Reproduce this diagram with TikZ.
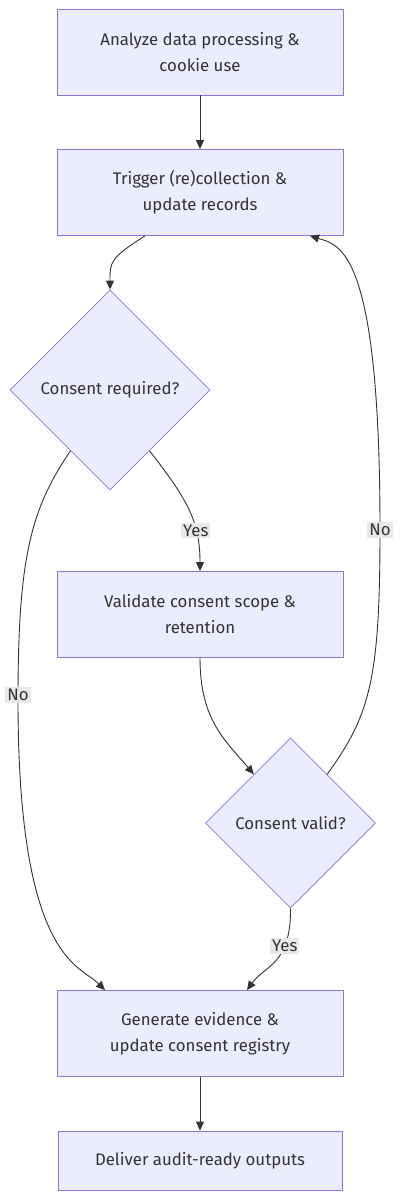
\documentclass[tikz,border=0pt]{standalone}
\usepackage{fontspec}
\setmainfont{Fira Sans}
\usetikzlibrary{shapes.geometric,arrows.meta}

\definecolor{boxfill}{HTML}{ECECFF}
\definecolor{boxline}{HTML}{9370DB}
\definecolor{edgeline}{HTML}{333333}
\definecolor{labelbg}{HTML}{E8E8E8}

\tikzset{
    stepbox/.style={draw=boxline, fill=boxfill, line width=0.8pt, minimum width=286pt,
        minimum height=86pt, align=center, text=edgeline, font=\fontsize{16.8}{26}\selectfont},
    decision/.style={draw=boxline, fill=boxfill, line width=0.8pt, diamond, aspect=1,
        inner sep=0pt, text=edgeline, font=\fontsize{16.8}{26}\selectfont},
    flow/.style={draw=edgeline, line width=0.9pt, -{Triangle[length=9pt,width=8pt]}},
    edgelabel/.style={fill=labelbg, text=edgeline, inner sep=2pt, font=\fontsize{16.8}{19}\selectfont}
}

\begin{document}
\begin{tikzpicture}[x=1pt, y=1pt]

    \useasboundingbox (0,0) rectangle (400,-1200);

    %% Nodes
    % Analysis
    \node[stepbox] (analyze) at (200,-52) {Analyze data processing \&\\cookie use};

    % (Re)collection
    \node[stepbox] (trigger) at (200,-192.5) {Trigger (re)collection \&\\update records};

    % First decision
    \node[decision, minimum size=200pt] (required) at (110,-390) {Consent required?};

    % Validation
    \node[stepbox] (validate) at (200,-614.5) {Validate consent scope \&\\retention};

    % Second decision
    \node[decision, minimum size=170pt] (valid) at (290.5,-823) {Consent valid?};

    % Evidence
    \node[stepbox] (generate) at (200,-1033.5) {Generate evidence \&\\update consent registry};

    % Outputs
    \node[stepbox, minimum width=284pt, minimum height=59pt] (deliver) at (200,-1160.5) {Deliver audit-ready outputs};

    %% Connectors
    \draw[flow] (analyze) -- (trigger);
    \draw[flow] ([xshift=-55pt]trigger.south) .. controls (110,-258) and (110,-262) .. (required.north);

    % Yes branch
    \draw[flow] (required.-57) .. controls (188,-500) and (200,-522) .. (validate.north)
        node[pos=0.68, edgelabel] {Yes};

    % No branch down the left side
    \coordinate (leftbend) at (18,-700);
    \draw[flow] (required.-123) .. controls (30,-510) and (18,-560) .. (leftbend)
        .. controls (18,-960) and (80,-965) .. ([xshift=-95pt]generate.north);
    \node[edgelabel] at (18,-695) {No};

    % Check of the consent
    \draw[flow] (validate.south) .. controls (200,-720) and (225,-740) .. (valid.127);

    % Valid: go on
    \draw[flow] (valid.south) .. controls (291,-965) and (265,-965) .. ([xshift=47pt]generate.north)
        node[pos=0.3, edgelabel] {Yes};

    % Not valid: back to collection
    \coordinate (rightbend) at (380,-530);
    \draw[flow] (valid.53) .. controls (370,-715) and (380,-680) .. (rightbend)
        .. controls (380,-250) and (340,-245) .. ([xshift=110pt]trigger.south);
    \node[edgelabel] at (380,-530) {No};

    % Final step
    \draw[flow] (generate) -- (deliver);

\end{tikzpicture}
\end{document}
